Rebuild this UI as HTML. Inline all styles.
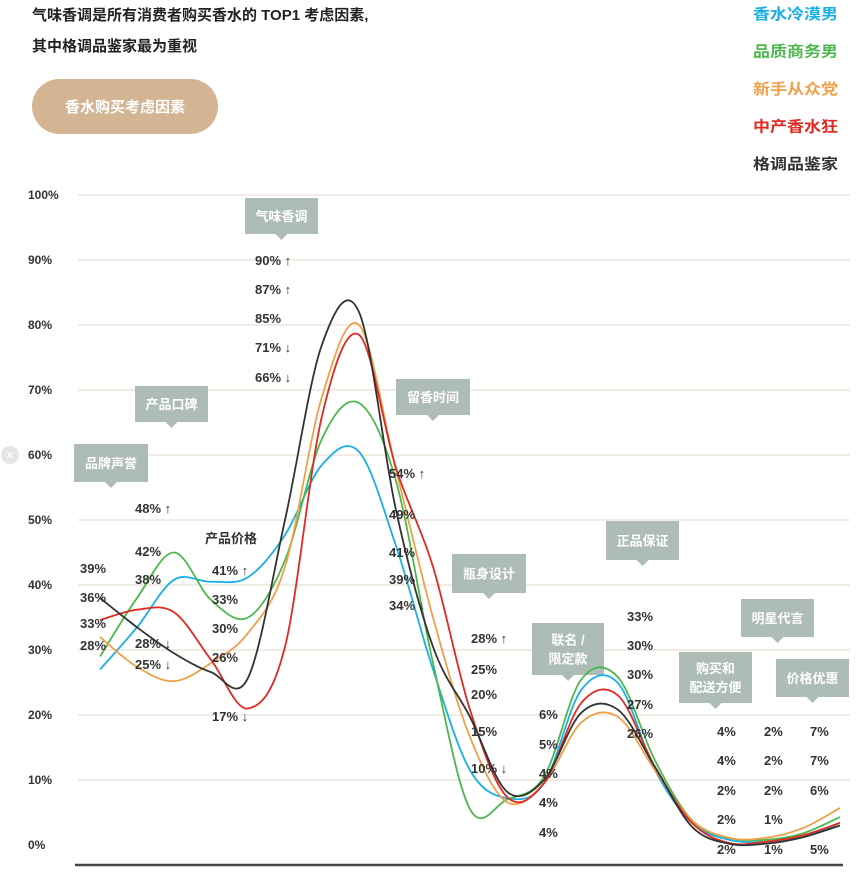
<!DOCTYPE html>
<html><head><meta charset="utf-8">
<style>
body{margin:0;background:#fff;}
svg{display:block;font-family:"Liberation Sans","Noto Sans CJK SC",sans-serif;}
.yl{font-size:12px;font-weight:bold;fill:#333;}
.vl{font-size:13px;font-weight:bold;fill:#333;}
.cb{font-size:13px;font-weight:bold;fill:#fff;}
</style></head><body>
<svg id="chart" width="865" height="891" viewBox="0 0 865 891">
<text x="32" y="20" font-size="15" font-weight="bold" fill="#222">气味香调是所有消费者购买香水的 TOP1 考虑因素,</text>
<text x="32" y="51" font-size="15" font-weight="bold" fill="#222">其中格调品鉴家最为重视</text>
<rect x="32" y="79" width="186" height="55" rx="27.5" fill="#d4b593"/>
<text x="125" y="112" text-anchor="middle" font-size="15" font-weight="bold" fill="#fff">香水购买考虑因素</text>
<circle cx="10" cy="455" r="9" fill="#e6e6e6"/>
<text x="10" y="459" text-anchor="middle" font-size="11" fill="#fff">✕</text>
<g id="legend"></g>
<g id="grid"></g>
<g id="callouts"></g>
<g id="lines"></g>
<g id="vals"></g>
<line x1="75" y1="865" x2="843" y2="865" stroke="#444" stroke-width="2.5"/>
</svg>
<script>
const seriesNames=["香水冷漠男","品质商务男","新手从众党","中产香水狂","格调品鉴家"];
const seriesColors=["#1ab0e6","#4cb84c","#eea04a","#e02a22","#333333"];
const yTicks=[0,10,20,30,40,50,60,70,80,90,100];
// curve knot values (%) at 21 evenly spaced knots
const blue=[27,33.5,40.8,40.5,41.2,47.7,58.5,60.5,46,27,11.5,7.2,9.5,23.8,24.9,11.5,3.4,0.8,0.5,1.2,3.4];
const green=[29,38,45,37.7,35,43.8,62.5,68,56,28,5.5,7,10.5,25.4,25.8,13,3.8,1.1,0.8,1.8,4.3];
const orange=[32,27.4,25.2,28,32.6,42.8,69,80,57.7,35,16.6,6.6,9.5,18.8,19.7,11.5,3.8,1.1,1.1,2.6,5.7];
const red=[34.6,36.2,35.8,28.5,21,30.5,66,78.5,58,42.8,20.8,7.4,9.5,21.8,23,12,3.4,0.3,0.5,1.5,3.4];
const black=[38,33.5,29.5,26.6,25.7,50,77,82,51.5,30.5,19.7,8.2,10,20.3,20.8,12,2.8,0.2,0.2,1.2,3];
const allSeries=[blue,green,orange,red,black];
// categories with callout and value labels
const categories=["品牌声誉","产品口碑","产品价格","气味香调","留香时间","瓶身设计","联名/限定款","正品保证","购买和配送方便","明星代言","价格优惠"];
const valueLabels=[
 ["39%","36%","33%","28%"],
 ["48% ↑","42%","38%","28% ↓","25% ↓"],
 ["41% ↑","33%","30%","26%","17% ↓"],
 ["90% ↑","87% ↑","85%","71% ↓","66% ↓"],
 ["54% ↑","49%","41%","39%","34% ↓"],
 ["28% ↑","25%","20%","15%","10% ↓"],
 ["6%","5%","4%","4%","4%"],
 ["33%","30%","30%","27%","26%"],
 ["4%","4%","2%","2%","2%"],
 ["2%","2%","2%","1%","1%"],
 ["7%","7%","6%","","5%"]
];
const NS="http://www.w3.org/2000/svg";
const y=v=>845-v*6.5;
const x=i=>100+37*i;
function mk(t,a,p){const e=document.createElementNS(NS,t);for(const k in a)e.setAttribute(k,a[k]);p.appendChild(e);return e;}
const grid=document.getElementById('grid');
yTicks.forEach(t=>{
 if(t>0){const l=mk('line',{x1:78,x2:850,y1:y(t),y2:y(t),stroke:'#efe6dc','stroke-width':1.5},grid);
 
 }
 const tx=mk('text',{x:28,y:y(t)+4,class:'yl'},grid);tx.textContent=t+'%';
 
 
});
const lg=document.getElementById('legend');
seriesNames.forEach((n,i)=>{const t=mk('text',{x:753,y:19+37.5*i,'font-size':15,'font-weight':'bold',fill:seriesColors[i],textLength:85,lengthAdjust:'spacingAndGlyphs'},lg);t.textContent=n;
 
 });
const boxes=[[74,444,74,38],[135,386,73,36],[245,198,73,36],[396,379,74,36],[452,554,74,39],[532,623,72,52],[606,521,73,39],[679,652,73,51],[741,599,73,38],[776,659,73,38]];
const cbg=document.getElementById('callouts');
const boxCats=[0,1,3,4,5,6,7,8,9,10];
boxes.forEach((b,k)=>{const [bx,by,bw,bh]=b;const g=mk('g',{},cbg);
 
 
 mk('rect',{x:bx,y:by,width:bw,height:bh,fill:'#aebcb8'},g);
 const cx=bx+bw/2;mk('polygon',{points:`${cx-6},${by+bh} ${cx+6},${by+bh} ${cx},${by+bh+6}`,fill:'#aebcb8'},g);
 let name=categories[boxCats[k]];let lines=[name];
 if(name==="联名/限定款")lines=["联名 /","限定款"];
 if(name==="购买和配送方便")lines=["购买和","配送方便"];
 lines.forEach((ln,j)=>{const t=mk('text',{x:cx,y:by+bh/2+5+(j-(lines.length-1)/2)*19,'text-anchor':'middle',class:'cb'},g);t.textContent=ln;});
});
const pl=mk('text',{x:205,y:543,'font-size':13,'font-weight':'bold',fill:'#333'},document.getElementById('vals'));pl.textContent='产品价格';


const colX=[80,135,212,255,389,471,539,627,717,764,810];
const colY=[[568,597,623,645],[508,551,579,643,664],[570,599,628,657,716],[260,289,318,347,377],[473,514,552,579,605],[638,669,694,731,768],[714,744,773,802,832],[616,645,674,704,733],[731,760,790,819,849],[731,760,790,819,849],[731,760,790,819,849]];
const vg=document.getElementById('vals');
valueLabels.forEach((col,c)=>col.forEach((s,r)=>{if(!s)return;const t=mk('text',{x:colX[c],y:colY[c][r]+5,class:'vl'},vg);t.textContent=s;
 
 }));
const lgp=document.getElementById('lines');
function path(vals){const p=vals.map((v,i)=>[x(i),y(v)]);let d=`M${p[0][0]},${p[0][1]}`;
 for(let i=0;i<p.length-1;i++){const p0=p[Math.max(0,i-1)],p1=p[i],p2=p[i+1],p3=p[Math.min(p.length-1,i+2)];
 const c1=[p1[0]+(p2[0]-p0[0])/6,p1[1]+(p2[1]-p0[1])/6],c2=[p2[0]-(p3[0]-p1[0])/6,p2[1]-(p3[1]-p1[1])/6];
 d+=` C${c1[0]},${c1[1]} ${c2[0]},${c2[1]} ${p2[0]},${p2[1]}`;}return d;}
allSeries.forEach((s,i)=>{const e=mk('path',{d:path(s),fill:'none',stroke:seriesColors[i],'stroke-width':1.8},lgp);
 
 });
</script>
</body></html>
